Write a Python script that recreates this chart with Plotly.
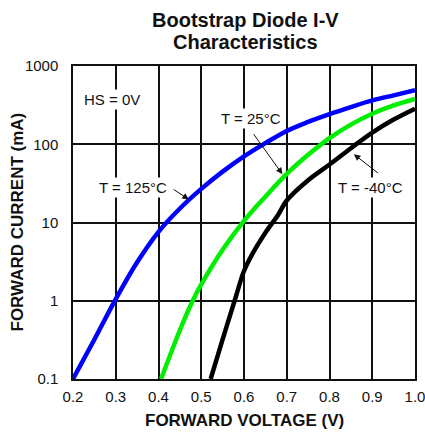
import plotly.graph_objects as go

# forward voltage (V) and forward current (mA)
v_125 = [0.2, 0.25, 0.3, 0.35, 0.4, 0.45, 0.5, 0.55, 0.6, 0.65, 0.7, 0.75, 0.8, 0.85, 0.9, 0.95, 1.0]
i_125 = [0.1, 0.32, 1.05, 3.1, 7.6, 15.1, 26.9, 44.7, 70.1, 103.5, 148, 193, 243, 299, 363, 422, 490]

v_25 = [0.406, 0.45, 0.48, 0.5, 0.55, 0.6, 0.65, 0.7, 0.75, 0.8, 0.85, 0.9, 0.95, 1.0]
i_25 = [0.1, 0.42, 1.0, 1.62, 4.5, 10.5, 21.4, 41.7, 73.3, 120, 178, 245, 313, 380]

v_m40 = [0.522, 0.55, 0.578, 0.6, 0.62, 0.65, 0.68, 0.7, 0.75, 0.8, 0.85, 0.9, 0.95, 1.0]
i_m40 = [0.1, 0.32, 1.0, 2.4, 4.0, 7.4, 12.6, 19.1, 34.7, 55, 89, 141, 207, 285]

x_ticks = [0.2, 0.3, 0.4, 0.5, 0.6, 0.7, 0.8, 0.9, 1.0]
y_ticks = [0.1, 1, 10, 100, 1000]
y_ticktext = ["0.1", "1", "10", "100", "1000"]

FONT = "Liberation Sans, Arial, sans-serif"
INK = "#111111"

fig = go.Figure()
for vx, iy, col in [(v_125, i_125, "#0000ff"), (v_25, i_25, "#00ee00"), (v_m40, i_m40, "#000000")]:
    fig.add_trace(go.Scatter(x=vx, y=iy, mode="lines",
                             line=dict(color=col, width=4.5, shape="spline", smoothing=1.0),
                             showlegend=False, hoverinfo="skip"))

axis_common = dict(showgrid=True, gridcolor=INK, gridwidth=1.5,
                   showline=True, linecolor=INK, linewidth=1.5, mirror=True,
                   ticks="", zeroline=False, automargin=False,
                   ticklabeloverflow="allow",
                   tickfont=dict(family=FONT, size=15, color=INK))

fig.update_xaxes(range=[0.2, 1.0], tickvals=x_ticks, tickformat=".1f",
                 ticklabelstandoff=3, **axis_common)
fig.update_yaxes(type="log", range=[-1, 3], tickvals=y_ticks, ticktext=y_ticktext,
                 ticklabelstandoff=10, **axis_common)

notes = [
    dict(x=0.292, y=2.573, text="HS = 0V", showarrow=False),
    dict(x=0.616, y=2.327, text="T = 25°C", showarrow=False),
    dict(x=0.4234, y=1.447, text="T = 125°C", showarrow=False, xanchor="right"),
    dict(x=0.897, y=1.447, text="T = -40°C", showarrow=False),
    dict(x=0.690, y=1.617, ax=0.620, ay=2.148, text=""),
    dict(x=0.471, y=1.294, ax=0.432, ay=1.435, text=""),
    dict(x=0.857, y=1.872, ax=0.917, ay=1.617, text=""),
]
for n in notes:
    if n.get("text") == "":
        n.update(showarrow=True, axref="x", ayref="y", arrowhead=2,
                 arrowsize=1.3, arrowwidth=1, arrowcolor=INK)
    else:
        n.update(bgcolor="white")
    fig.add_annotation(xref="x", yref="y", font=dict(family=FONT, size=15, color=INK), **n)

# two-line title
for txt, yy in [("<b>Bootstrap Diode I-V</b>", 1.148), ("<b>Characteristics</b>", 1.078)]:
    fig.add_annotation(xref="paper", yref="paper", x=0.503, y=yy, text=txt,
                       showarrow=False, yanchor="middle",
                       font=dict(family=FONT, size=20, color=INK))

# axis titles
fig.add_annotation(xref="paper", yref="paper", x=0.5, y=0, yshift=-41,
                   text="<b>FORWARD VOLTAGE (V)</b>", showarrow=False, yanchor="middle",
                   font=dict(family=FONT, size=17, color=INK))
fig.add_annotation(xref="paper", yref="paper", x=0, y=0.5, xshift=-56,
                   text="<b>FORWARD CURRENT (mA)</b>", showarrow=False, textangle=-90,
                   xanchor="center", font=dict(family=FONT, size=17, color=INK))

fig.update_layout(width=425, height=436,
                  margin=dict(l=73, r=10, t=66, b=57),
                  paper_bgcolor="white", plot_bgcolor="white")

fig.write_html("out.html", config={"displayModeBar": False},
               post_script="document.body.style.margin='0';")
